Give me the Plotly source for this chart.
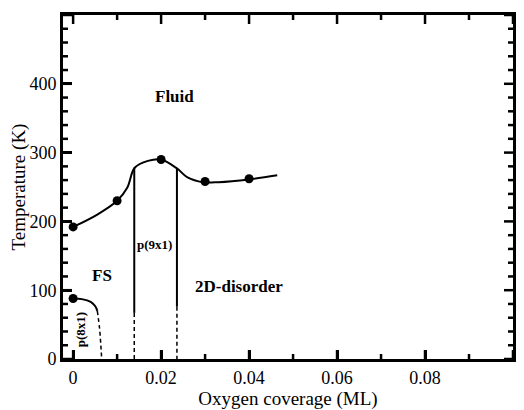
import plotly.graph_objects as go

# Transition curve (upper boundary)
curve_x = [0, 0.0055, 0.01, 0.0123, 0.014, 0.017, 0.02, 0.0236, 0.026, 0.0295, 0.033, 0.04, 0.0464]
curve_y = [192, 210, 230, 249, 278, 288, 290, 277, 264, 257, 257, 261, 267]

# Measured points
pts_x = [0, 0.01, 0.02, 0.03, 0.04, 0]
pts_y = [192, 230, 290, 258, 262, 88]

# p(8x1) boundary: solid and dashed parts
p8_solid_x = [0, 0.002, 0.004, 0.005, 0.0055]
p8_solid_y = [88, 87, 83, 77, 70]
p8_dash_x = [0.0055, 0.006, 0.0063, 0.0065]
p8_dash_y = [70, 45, 20, 0]

# p(9x1) vertical boundaries
v1_x = 0.0139
v1_top, v1_mid = 278, 67
v2_x = 0.0236
v2_top, v2_mid = 277, 76

# Region labels
lab_text = ["Fluid", "FS", "2D-disorder"]
lab_x = [0.023, 0.0066, 0.0377]
lab_y = [382, 121, 106]

# Axes
x_range = [-0.0023, 0.1]
y_range = [0, 500]
x_major = [0, 0.02, 0.04, 0.06, 0.08, 0.1]
x_labels = ["0", "0.02", "0.04", "0.06", "0.08", "0.1"]
x_minor = [0.01, 0.03, 0.05, 0.07, 0.09]
y_major = [0, 100, 200, 300, 400, 500]
y_labels = ["0", "100", "200", "300", "400", "500"]
y_minor = [20, 40, 60, 80, 120, 140, 160, 180, 220, 240, 260, 280,
           320, 340, 360, 380, 420, 440, 460, 480]

W, H = 516, 402
M = dict(l=55, r=11, t=7, b=51)
plot_w = W - M["l"] - M["r"]
plot_h = H - M["t"] - M["b"]
dx_per_px = (x_range[1] - x_range[0]) / plot_w
dy_per_px = (y_range[1] - y_range[0]) / plot_h

fig = go.Figure()
line = dict(color="black", width=2)
dash = "4px,3px"

fig.add_trace(go.Scatter(x=curve_x, y=curve_y, mode="lines", line=dict(color="black", width=2, shape="spline", smoothing=1)))
fig.add_trace(go.Scatter(x=p8_solid_x, y=p8_solid_y, mode="lines", line=dict(color="black", width=2, shape="spline")))
fig.add_trace(go.Scatter(x=p8_dash_x, y=p8_dash_y, mode="lines", line=dict(color="black", width=1.5, dash=dash, shape="spline")))
fig.add_trace(go.Scatter(x=[v1_x, v1_x], y=[v1_top, v1_mid], mode="lines", line=line))
fig.add_trace(go.Scatter(x=[v1_x, v1_x], y=[v1_mid, 0], mode="lines", line=dict(color="black", width=1.5, dash=dash)))
fig.add_trace(go.Scatter(x=[v2_x, v2_x], y=[v2_top, v2_mid], mode="lines", line=line))
fig.add_trace(go.Scatter(x=[v2_x, v2_x], y=[v2_mid, 0], mode="lines", line=dict(color="black", width=1.5, dash=dash)))
fig.add_trace(go.Scatter(x=pts_x, y=pts_y, mode="markers", marker=dict(color="black", size=9)))

# Inward minor/major ticks on all four sides as line segments (unclipped)
tx, ty = [], []
for vals, ln in [(x_major, 9), (x_minor, 5)]:
    for v in vals:
        tx += [v, v, None, v, v, None]
        ty += [y_range[0], y_range[0] + ln * dy_per_px, None,
               y_range[1], y_range[1] - ln * dy_per_px, None]
for vals, ln in [(y_major, 9), (y_minor, 5)]:
    for v in vals:
        ty += [v, v, None, v, v, None]
        tx += [x_range[0], x_range[0] + ln * dx_per_px, None,
               x_range[1], x_range[1] - ln * dx_per_px, None]
fig.add_trace(go.Scatter(x=tx, y=ty, mode="lines", line=dict(color="black", width=2.5),
                         hoverinfo="skip", cliponaxis=False))

for t, x, y in zip(lab_text, lab_x, lab_y):
    fig.add_annotation(x=x, y=y, text="<b>" + t + "</b>", showarrow=False,
                       font=dict(family="Liberation Serif", size=17, color="black"))
fig.add_annotation(x=0.0184, y=167, text="<b>p(9x1)</b>", showarrow=False,
                   font=dict(family="Liberation Serif", size=13, color="black"))
fig.add_annotation(x=0.0016, y=42, text="<b>p(8x1)</b>", showarrow=False, textangle=-90,
                   font=dict(family="Liberation Serif", size=13, color="black"))

tickfont = dict(family="Liberation Serif", size=18, color="black")
titlefont = dict(family="Liberation Serif", size=19, color="black")

fig.update_xaxes(range=x_range, tickmode="array", tickvals=x_major, ticktext=x_labels,
                 ticks="inside", ticklen=9, tickwidth=3, tickcolor="black",
                 showline=True, linecolor="black", linewidth=3, mirror=True,
                 showgrid=False, zeroline=False, automargin=False, tickfont=tickfont,
                 title_text="Oxygen coverage (ML)", title_font=titlefont, title_standoff=4)
fig.update_yaxes(range=y_range, tickmode="array", tickvals=y_major, ticktext=y_labels,
                 ticks="inside", ticklen=9, tickwidth=3, tickcolor="black",
                 showline=True, linecolor="black", linewidth=3, mirror=True,
                 showgrid=False, zeroline=False, automargin=False, tickfont=tickfont,
                 title_text="Temperature (K)", title_font=titlefont, title_standoff=4)

fig.update_layout(width=W, height=H, showlegend=False, margin=M,
                  paper_bgcolor="white", plot_bgcolor="white")
fig.write_html("out.html")
